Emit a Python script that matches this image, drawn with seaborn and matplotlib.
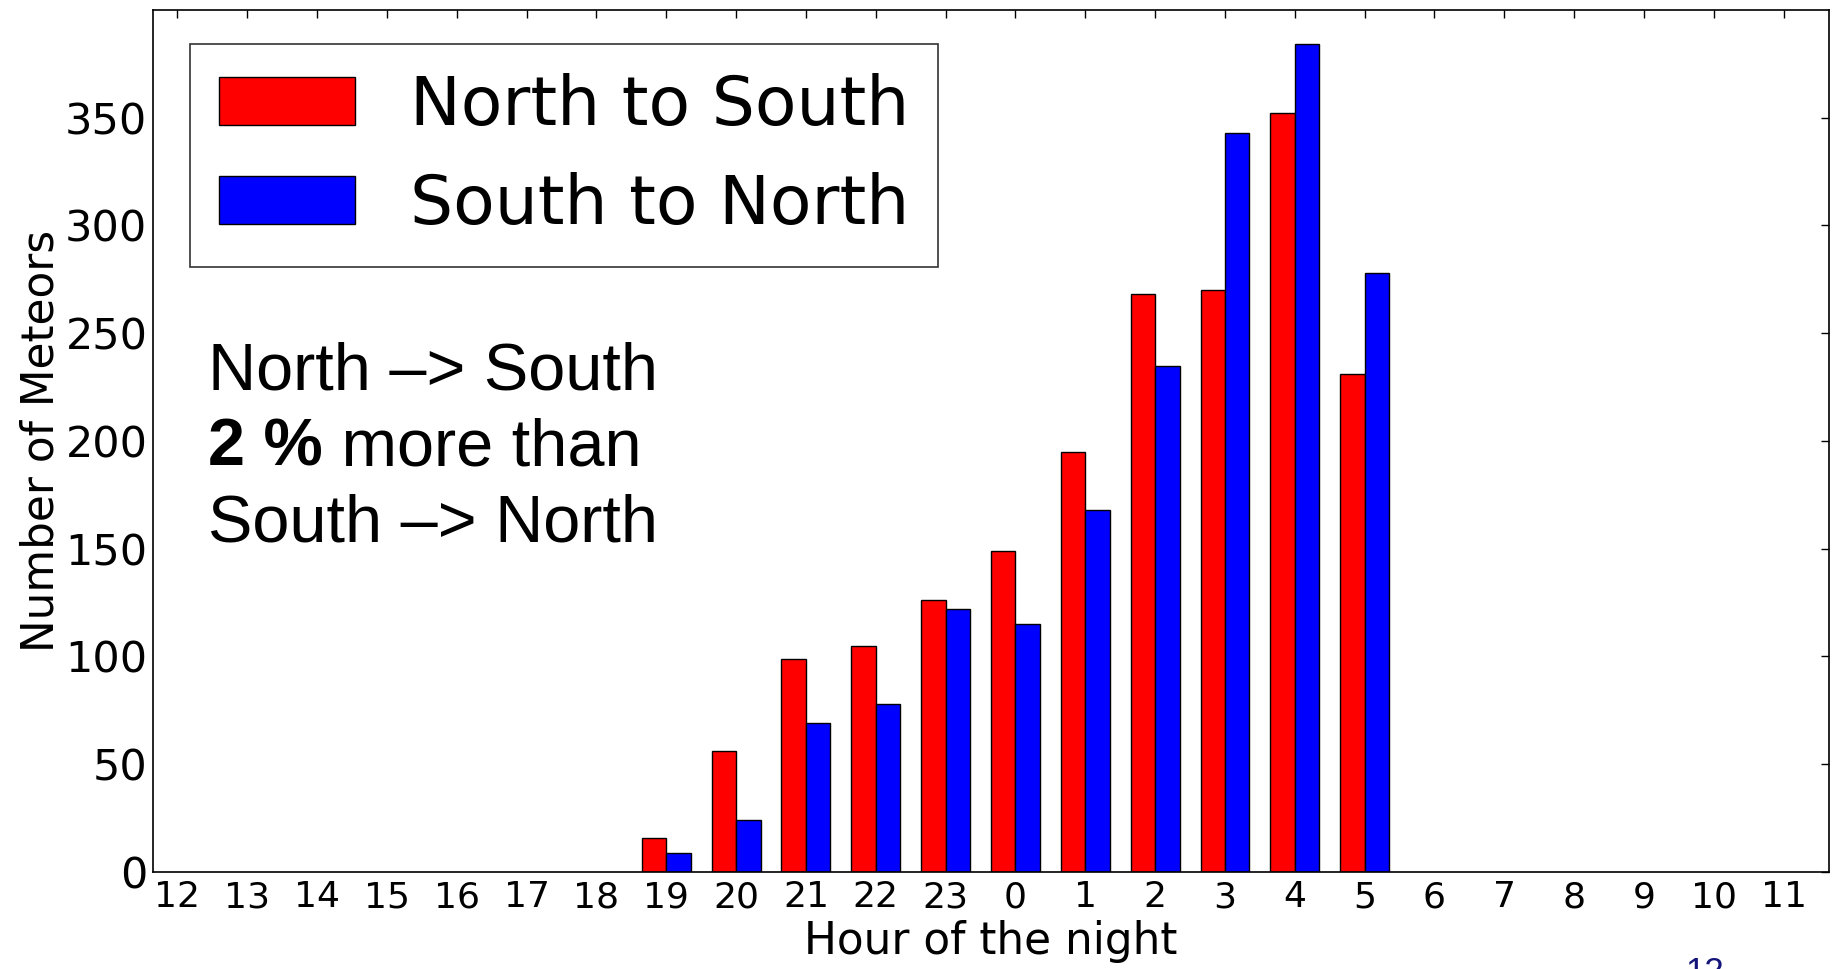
import numpy as np
import pandas as pd
import matplotlib
matplotlib.use('Agg')
import matplotlib.pyplot as plt
import seaborn as sns

# hours of the night, noon to noon
HOURS = ['12', '13', '14', '15', '16', '17', '18', '19', '20', '21', '22', '23',
         '0', '1', '2', '3', '4', '5', '6', '7', '8', '9', '10', '11']
ACTIVE = ['19', '20', '21', '22', '23', '0', '1', '2', '3', '4', '5']
north_to_south = [16, 56, 99, 105, 126, 149, 195, 268, 270, 352, 231]
south_to_north = [9, 24, 69, 78, 122, 115, 168, 235, 343, 384, 278]
Y_TICKS = [0, 50, 100, 150, 200, 250, 300, 350]
LABELS = ['North to South', 'South to North']
COLORS = {'North to South': 'red', 'South to North': 'blue'}

df = pd.DataFrame({
  'hour': ACTIVE * 2,
  'count': north_to_south + south_to_north,
  'dir': [LABELS[0]] * len(ACTIVE) + [LABELS[1]] * len(ACTIVE),
})

sns.set_style('white')
plt.rcParams['font.family'] = ['DejaVu Sans']
plt.rcParams['text.color'] = 'black'
plt.rcParams['axes.labelcolor'] = 'black'

fig = plt.figure(figsize=(18.34, 9.69), dpi=100)
ax = fig.add_axes([0.0834, 0.1001, 0.9139, 0.8896])

sns.barplot(data=df, x='hour', y='count', hue='dir', order=HOURS, hue_order=LABELS,
            palette=COLORS, width=0.7, edgecolor='black', linewidth=1.0,
            saturation=1, ax=ax)

ax.set_xlim(-0.35, len(HOURS) - 0.35)
ax.set_ylim(0, 400)
ax.set_yticks(Y_TICKS)
ax.tick_params(direction='in', length=6, width=1, top=True, right=True, colors='black')
ax.tick_params(axis='y', labelsize=31, pad=4)
ax.tick_params(axis='x', labelsize=26, pad=6)
for s in ax.spines.values():
  s.set_visible(True)
  s.set_color('black')
  s.set_linewidth(1.2)

ax.set_xlabel('Hour of the night', fontsize=31.5, labelpad=4)
ax.set_ylabel('Number of Meteors', fontsize=31.5, labelpad=2)

leg = ax.legend(loc='upper left', bbox_to_anchor=(0.022, 0.961), fontsize=49,
                handlelength=2.0, handleheight=0.7, handletextpad=0.8,
                labelspacing=0.48, borderpad=0.43, fancybox=False, frameon=True,
                borderaxespad=0)
leg.get_frame().set_edgecolor('black')
leg.get_frame().set_linewidth(1.2)
for t in leg.get_texts():
  t.set_color('black')

# annotation in Arial-like font, with the bold percentage
ann = dict(fontsize=48, family=['Liberation Sans', 'DejaVu Sans'], color='black')
ax.text(208 / 1834, 1 - 389 / 969, 'North \u2013> South', transform=fig.transFigure,
        va='baseline', ha='left', **ann)
t_bold = ax.text(208 / 1834, 1 - 465 / 969, '2 %', transform=fig.transFigure,
                 va='baseline', ha='left', fontweight='bold', **ann)
ax.annotate(' more than', xy=(1, 0), xycoords=t_bold, va='bottom', ha='left', **ann)
ax.text(208 / 1834, 1 - 541 / 969, 'South \u2013> North', transform=fig.transFigure,
        va='baseline', ha='left', **ann)

# slide page number, cut at the bottom edge
fig.text(1685 / 1834, 1 - 956 / 969, '12', fontsize=25, color='#14147a',
         family=['Liberation Sans', 'DejaVu Sans'], va='top', ha='left')

fig.savefig('out.png', dpi=100, facecolor='white')
